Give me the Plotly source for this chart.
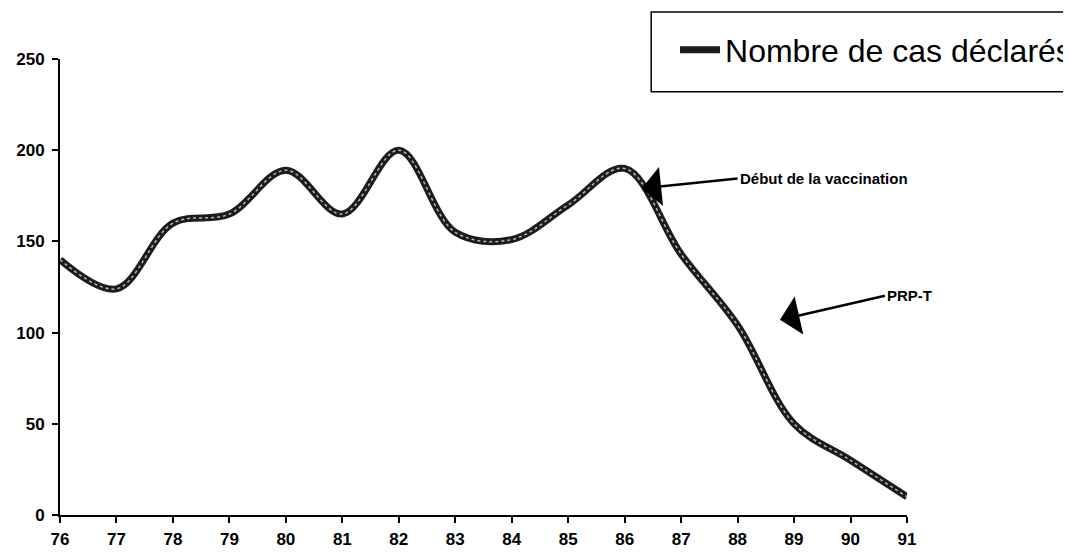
import plotly.graph_objects as go

# Cas déclarés par année (lecture du graphique)
years = [76, 77, 78, 79, 80, 81, 82, 83, 84, 85, 86, 87, 88, 89, 90, 91]
cases = [140, 124, 160, 165, 189, 165, 200, 155, 151, 170, 190, 143, 104, 50, 30, 10]

x_ticks = years
y_ticks = [0, 50, 100, 150, 200, 250]

fig = go.Figure()
# trait épais sombre + pointillé clair par-dessus pour l'effet texturé
fig.add_trace(go.Scatter(x=years, y=cases, mode='lines', name='Nombre de cas déclarés',
                         line=dict(color='#1c1c1c', width=7, shape='spline', smoothing=1.0)))
fig.add_trace(go.Scatter(x=years, y=cases, mode='lines', showlegend=False, hoverinfo='skip',
                         line=dict(color='#b8b8b8', width=1.5, dash='dot', shape='spline', smoothing=1.0)))

tick_font = dict(family='Liberation Sans, Arial', size=17, color='black', weight='bold')

# la page ajoute une marge de 8 px : figure de 1063x545
fig.update_layout(
    width=1063, height=545,
    margin=dict(l=52, r=164, t=51, b=38, autoexpand=False),
    plot_bgcolor='white', paper_bgcolor='white',
    showlegend=True,
    legend=dict(xref='container', yref='container', x=0.6275, y=0.923,
                xanchor='left', yanchor='middle',
                bgcolor='rgba(0,0,0,0)', borderwidth=0,
                font=dict(family='Liberation Sans, Arial', size=32, color='black'),
                itemwidth=40),
    xaxis=dict(range=[76, 91], tickvals=x_ticks, showgrid=False, zeroline=False,
               showline=True, linecolor='black', linewidth=2, automargin=False,
               ticks='outside', ticklen=6, tickwidth=2, tickcolor='black',
               ticklabelstandoff=2, tickfont=tick_font),
    yaxis=dict(range=[0, 250], tickvals=y_ticks, showgrid=False, zeroline=False,
               showline=True, linecolor='black', linewidth=2, automargin=False,
               ticks='outside', ticklen=6, tickwidth=2, tickcolor='black',
               ticklabelstandoff=4, tickfont=tick_font),
)

# cadre de la légende
fig.add_shape(type='rect', xref='paper', yref='paper',
              x0=0.698, x1=1.3, y0=0.928, y1=1.103,
              line=dict(color='black', width=1.5), fillcolor='rgba(0,0,0,0)')

ann_font = dict(family='Liberation Sans, Arial', size=15, color='black')
fig.add_annotation(x=86.3, y=179, ax=96, ay=-10, text='<b>Début de la vaccination</b>',
                   xanchor='left', showarrow=True, arrowhead=1, arrowsize=2.6, arrowwidth=2.5,
                   arrowcolor='black', font=ann_font)
fig.add_annotation(x=88.75, y=107, ax=105, ay=-24, text='<b>PRP-T</b>',
                   xanchor='left', showarrow=True, arrowhead=1, arrowsize=2.6, arrowwidth=2.5,
                   arrowcolor='black', font=ann_font)

fig.write_html("out.html")
